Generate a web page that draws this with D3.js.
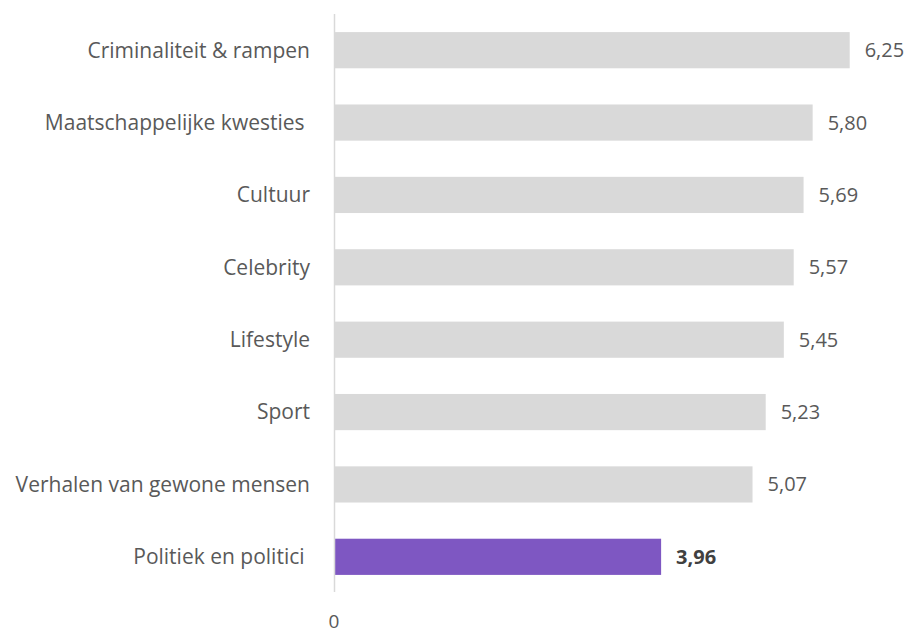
<!DOCTYPE html>
<html>
<head>
<meta charset="utf-8">
<script src="https://cdn.jsdelivr.net/npm/d3@7"></script>
<style>
  body { margin: 0; background: #fff; }
  text { font-family: "Open Sans", Lato, sans-serif; }
</style>
</head>
<body>
<div id="chart"></div>
<script>
// Data
var categories = ["Criminaliteit & rampen", "Maatschappelijke kwesties ", "Cultuur", "Celebrity",
    "Lifestyle", "Sport", "Verhalen van gewone mensen", "Politiek en politici "];
var values = [6.25, 5.80, 5.69, 5.57, 5.45, 5.23, 5.07, 3.96];
var highlight = "Politiek en politici ";
var xTicks = [0];

document.addEventListener('DOMContentLoaded', function(){
    var width = 908,
        height = 633;
    var margin = {top: 14, left: 334, right: 58, bottom: 40};

    var svg = d3.select("#chart").append("svg")
        .attr("width", width)
        .attr("height", height);

    var x = d3.scaleLinear().domain([0, 6.25]).range([margin.left + 1, 849.7]);
    var y = d3.scaleBand().domain(categories)
        .range([margin.top, height - margin.bottom])
        .paddingInner(0.5).paddingOuter(0.25);

    var fmt = function(v){ return d3.format(".2f")(v).replace('.', ','); };

    // bars
    svg.append('g').selectAll('rect')
        .data(categories)
        .enter().append('rect')
        .attr('x', x(0))
        .attr('y', function(d){ return y(d); })
        .attr('width', function(d,i){ return x(values[i]) - x(0); })
        .attr('height', y.bandwidth())
        .attr('fill', function(d){ return d === highlight ? '#7e57c2' : '#d9d9d9'; });

    // axis line
    svg.append('line')
        .attr('x1', margin.left + 0.5).attr('x2', margin.left + 0.5)
        .attr('y1', margin.top).attr('y2', 592)
        .attr('stroke', '#d9d9d9').attr('stroke-width', 1.5);

    // category labels
    svg.append('g').selectAll('text')
        .data(categories)
        .enter().append('text')
        .attr('x', 310)
        .attr('y', function(d){ return y(d) + y.bandwidth()/2; })
        .attr('dy', '0.35em')
        .attr('text-anchor', 'end')
        .attr('fill', '#595959')
        .style('font-size', '21px')
        .style('white-space', 'pre')
        .text(function(d){ return d; });

    // value labels
    svg.append('g').selectAll('text')
        .data(categories)
        .enter().append('text')
        .attr('x', function(d,i){ return x(values[i]) + 15; })
        .attr('y', function(d){ return y(d) + y.bandwidth()/2; })
        .attr('dy', '0.35em')
        .attr('fill', function(d){ return d === highlight ? '#404040' : '#595959'; })
        .style('font-size', '20px')
        .style('font-weight', function(d){ return d === highlight ? 'bold' : 'normal'; })
        .text(function(d,i){ return fmt(values[i]); });

    // x tick
    svg.append('g').selectAll('text')
        .data(xTicks)
        .enter().append('text')
        .attr('x', function(d){ return x(d) - 1; })
        .attr('y', 621)
        .attr('dy', '0.35em')
        .attr('text-anchor', 'middle')
        .attr('fill', '#595959')
        .style('font-size', '19px')
        .text(function(d){ return d; });
});
</script>
</body>
</html>
